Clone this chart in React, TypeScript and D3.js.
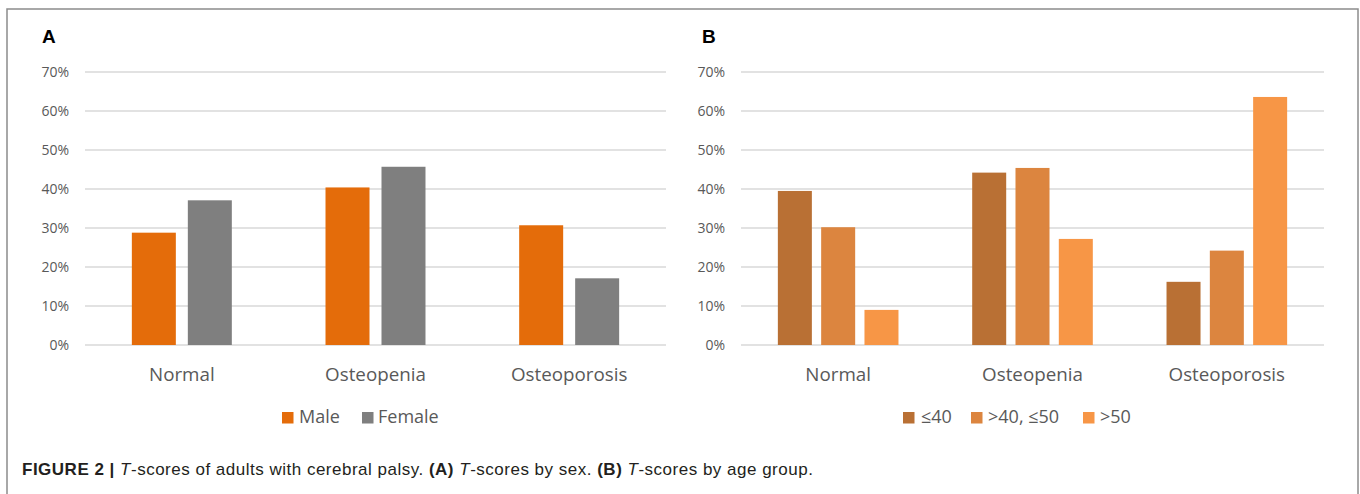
import React from "react";
import * as d3 from "d3";

const categories = ["Normal", "Osteopenia", "Osteoporosis"];
const seriesA = ["Male", "Female"];
const maleValues = [28.8, 40.4, 30.7];
const femaleValues = [37.1, 45.7, 17.1];
const seriesB = ["≤40", ">40, ≤50", ">50"];
const ageLe40 = [39.5, 44.2, 16.2];
const age40to50 = [30.2, 45.4, 24.2];
const ageGt50 = [9.0, 27.2, 63.6];
const yTicks = [0, 10, 20, 30, 40, 50, 60, 70];
const colorsA = ["#E46C0A", "#7F7F7F"];
const colorsB = ["#B97034", "#DC853F", "#F79646"];

const W = 1360;
const H = 494;
const LABEL_FONT = "'Open Sans', sans-serif";
const CAP_FONT = "'Liberation Sans', Arial, sans-serif";
const TEXT_GRAY = "#595959";

type PanelProps = {
  letter: string;
  letterX: number;
  x0: number;
  x1: number;
  series: string[];
  values: number[][];
  colors: string[];
  groupFrac: number;
  innerPad: number;
  legendItems: { x: number; textX: number }[];
};

function Panel(p: PanelProps) {
  const y = d3.scaleLinear().domain([0, 70]).range([345, 72]);
  const x = d3.scaleBand<string>().domain(categories).range([p.x0, p.x1]).padding(0);
  const step = x.step();
  const groupW = step * p.groupFrac;
  const xs = d3
    .scaleBand<string>()
    .domain(p.series)
    .range([0, groupW])
    .paddingInner(p.innerPad)
    .paddingOuter(0);
  return (
    <g>
      <text x={p.letterX} y={43} fontFamily={CAP_FONT} fontWeight="bold" fontSize={19} fill="#000">
        {p.letter}
      </text>
      {yTicks.map((t) => (
        <g key={t}>
          <line x1={p.x0} x2={p.x1} y1={y(t)} y2={y(t)} stroke="#D9D9D9" strokeWidth={1.3} />
          <text
            x={p.x0 - 16}
            y={y(t)}
            dy="0.36em"
            textAnchor="end"
            fontFamily={LABEL_FONT}
            fontSize={14}
            fill={TEXT_GRAY}
          >
            {t + "%"}
          </text>
        </g>
      ))}
      {categories.map((c, ci) => {
        const gx = (x(c) as number) + (step - groupW) / 2;
        return (
          <g key={c}>
            {p.series.map((s, si) => {
              const v = p.values[si][ci];
              return (
                <rect
                  key={s}
                  x={gx + (xs(s) as number)}
                  y={y(v)}
                  width={xs.bandwidth()}
                  height={y(0) - y(v)}
                  fill={p.colors[si]}
                />
              );
            })}
            <text
              x={(x(c) as number) + step / 2}
              y={381}
              textAnchor="middle"
              fontFamily={LABEL_FONT}
              fontSize={18.8}
              fill={TEXT_GRAY}
            >
              {c}
            </text>
          </g>
        );
      })}
      {p.series.map((s, si) => (
        <g key={s}>
          <rect x={p.legendItems[si].x} y={412} width={11.5} height={11.5} fill={p.colors[si]} />
          <text x={p.legendItems[si].textX} y={423} fontFamily={LABEL_FONT} fontSize={18} fill={TEXT_GRAY}>
            {s}
          </text>
        </g>
      ))}
    </g>
  );
}

export default function App() {
  return (
    <svg
      width={W}
      height={H}
      viewBox={`0 0 ${W} ${H}`}
      style={{ position: "absolute", left: 0, top: 0, display: "block", background: "#fff" }}
    >
      <rect x={0} y={0} width={W} height={H} fill="#fff" />
      <rect x={7} y={9} width={1351} height={520} fill="none" stroke="#8C8C8C" strokeWidth={1.5} />
      <Panel
        letter="A"
        letterX={42}
        x0={85}
        x1={666}
        series={seriesA}
        values={[maleValues, femaleValues]}
        colors={colorsA}
        groupFrac={100 / 193.7}
        innerPad={12 / 56}
        legendItems={[
          { x: 282, textX: 299 },
          { x: 362, textX: 378 },
        ]}
      />
      <Panel
        letter="B"
        letterX={702}
        x0={741}
        x1={1324}
        series={seriesB}
        values={[ageLe40, age40to50, ageGt50]}
        colors={colorsB}
        groupFrac={120.6 / 194.3}
        innerPad={9.3 / 43.3}
        legendItems={[
          { x: 903, textX: 921 },
          { x: 971, textX: 988 },
          { x: 1083, textX: 1100 },
        ]}
      />
      <text x={22} y={475} fontFamily={CAP_FONT} fontSize={17} letterSpacing={0.5} fill="#231F20">
        <tspan fontWeight="bold">FIGURE 2 | </tspan>
        <tspan fontStyle="italic">T</tspan>
        <tspan>-scores of adults with cerebral palsy. </tspan>
        <tspan fontWeight="bold">(A)</tspan>
        <tspan> </tspan>
        <tspan fontStyle="italic">T</tspan>
        <tspan>-scores by sex. </tspan>
        <tspan fontWeight="bold">(B)</tspan>
        <tspan> </tspan>
        <tspan fontStyle="italic">T</tspan>
        <tspan>-scores by age group.</tspan>
      </text>
    </svg>
  );
}
